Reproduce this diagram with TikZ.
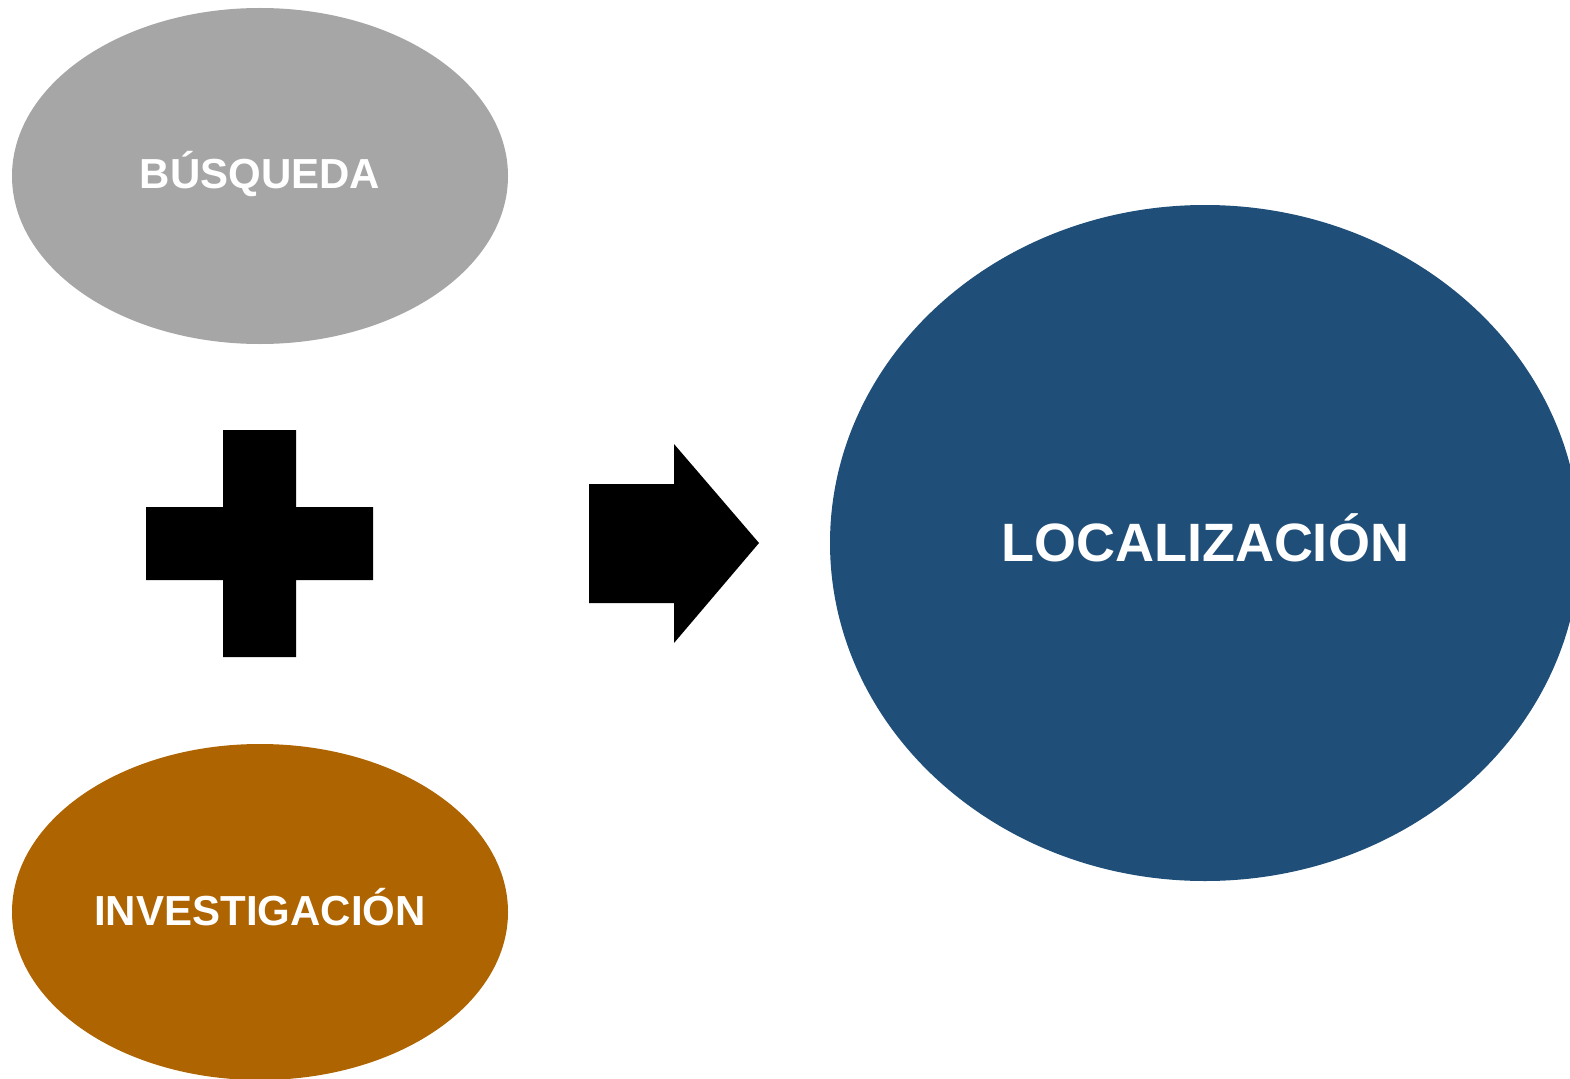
\documentclass[tikz,border=0pt]{standalone}
\usepackage{fontspec}
\setmainfont{Liberation Sans}
\usetikzlibrary{shapes.geometric}

\definecolor{searchgray}{HTML}{A6A6A6}
\definecolor{researchbrown}{HTML}{AE6400}
\definecolor{placeblue}{HTML}{1F4E79}

\begin{document}
\begin{tikzpicture}[x=1pt,y=-1pt,
blob/.style={ellipse, draw=none, inner sep=0pt, text=white, text depth=0pt,
             text height=26pt, font=\bfseries\fontsize{42}{48}\selectfont},
sign/.style={fill=black, draw=none}]

%% local variables
\def \rx {496pt}
\def \ry {336pt}

\useasboundingbox (0,0) rectangle (1570,1078);
\clip (0,0) rectangle (1570,1078);

%% place the two input ellipses
\node[blob, fill=searchgray, minimum width=\rx, minimum height=\ry] (busqueda) at (260,176) {BÚSQUEDA};
\node[blob, fill=researchbrown, minimum width=\rx, minimum height=\ry] (investigacion) at (260,912) {INVESTIGACIÓN};

%% place the result ellipse
\node[blob, fill=placeblue, minimum width=750pt, minimum height=676pt, text height=36pt,
      font=\bfseries\fontsize{54}{60}\selectfont] (localizacion) at (1205,543) {LOCALIZACIÓN};

%% plus sign
\fill[sign] (223,430) -- (296,430) -- (296,507) -- (373,507) -- (373,580) -- (296,580)
      -- (296,657) -- (223,657) -- (223,580) -- (146,580) -- (146,507) -- (223,507) -- cycle;

%% block arrow
\fill[sign] (589,484) -- (674,484) -- (674,444) -- (759,543) -- (674,643) -- (674,603)
      -- (589,603) -- cycle;

\end{tikzpicture}
\end{document}
